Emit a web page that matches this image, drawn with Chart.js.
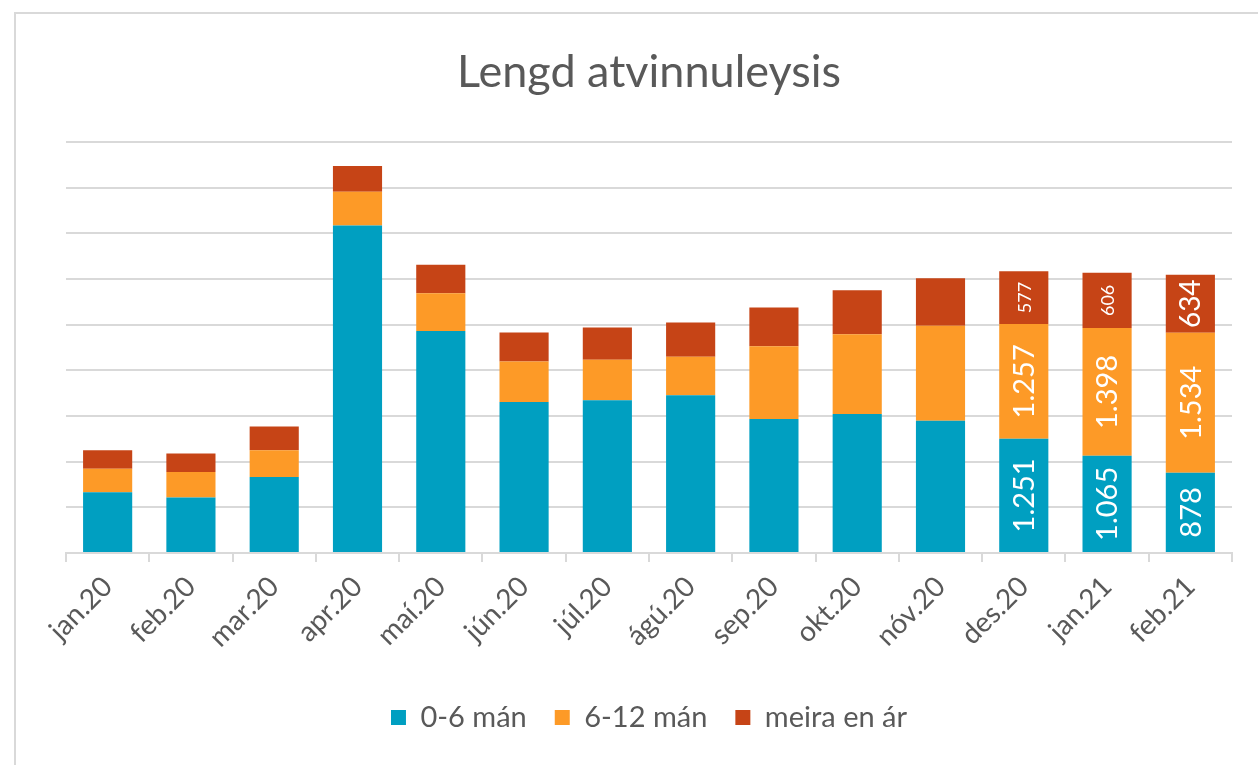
<!DOCTYPE html>
<html>
<head>
<meta charset="utf-8">
<script src="https://cdn.jsdelivr.net/npm/chart.js@4/dist/chart.umd.min.js"></script>
<style>
  html, body { margin: 0; padding: 0; background: #ffffff; overflow: hidden; }
  #frame { position: absolute; left: 14px; top: 12px; width: 1400px; height: 900px;
           border-left: 2px solid #d9d9d9; border-top: 2px solid #d9d9d9; box-sizing: border-box; }
  #wrap { position: absolute; left: 0; top: 0; width: 1258px; height: 765px; }
</style>
</head>
<body>
<div id="frame"></div>
<div id="wrap"><canvas id="c" width="1258" height="765"></canvas></div>
<script>
const categories = ["jan.20","feb.20","mar.20","apr.20","maí.20","jún.20","júl.20","ágú.20","sep.20","okt.20","nóv.20","des.20","jan.21","feb.21"];
const seriesNames = ["0-6 mán","6-12 mán","meira en ár"];
const shortTerm  = [666, 608, 831, 3585, 2432, 1654, 1672, 1727, 1467, 1522, 1448, 1251, 1065, 878];
const midTerm    = [257, 279, 294, 371, 412, 444, 445, 423, 796, 873, 1039, 1257, 1398, 1534];
const longTerm   = [203, 202, 260, 282, 312, 316, 352, 374, 426, 481, 522, 577, 606, 634];
const shortLabels = [null,null,null,null,null,null,null,null,null,null,null,"1.251","1.065","878"];
const midLabels   = [null,null,null,null,null,null,null,null,null,null,null,"1.257","1.398","1.534"];
const longLabels  = [null,null,null,null,null,null,null,null,null,null,null,"577","606","634"];
const yTicks = [0, 500, 1000, 1500, 2000, 2500, 3000, 3500, 4000, 4500];

const FONT = "Lato, 'Open Sans', sans-serif";
const labelFonts = [[29,29,29],[29,29,29],[18,18,28]];

const barLabelPlugin = {
  id: 'barLabels',
  afterDatasetsDraw(chart) {
    const ctx = chart.ctx;
    const all = [shortLabels, midLabels, longLabels];
    chart.data.datasets.forEach((ds, di) => {
      const meta = chart.getDatasetMeta(di);
      meta.data.forEach((bar, i) => {
        const txt = all[di][i];
        if (!txt) return;
        const k = i - 11;
        const size = labelFonts[di][k] || 28;
        const cy = (bar.y + bar.base) / 2;
        ctx.save();
        ctx.translate(bar.x, cy);
        ctx.rotate(-Math.PI / 2);
        ctx.fillStyle = '#ffffff';
        ctx.font = size + 'px ' + FONT;
        ctx.textAlign = 'center';
        ctx.textBaseline = 'middle';
        ctx.fillText(txt, 0, 1);
        ctx.restore();
      });
    });
  }
};

new Chart(document.getElementById('c'), {
  type: 'bar',
  data: {
    labels: categories,
    datasets: [
      { label: seriesNames[0], data: shortTerm, backgroundColor: '#009fc1' },
      { label: seriesNames[1], data: midTerm,   backgroundColor: '#fd9a27' },
      { label: seriesNames[2], data: longTerm,  backgroundColor: '#c64416' }
    ]
  },
  options: {
    responsive: false,
    animation: false,
    devicePixelRatio: 1,
    layout: { padding: { left: 66, right: 26, top: 0, bottom: 23 } },
    datasets: { bar: { categoryPercentage: 1.0, barPercentage: 0.59 } },
    plugins: {
      title: {
        display: true,
        text: 'Lengd atvinnuleysis',
        color: '#595959',
        font: { family: FONT, size: 45, weight: 'normal' },
        padding: { top: 45, bottom: 43 }
      },
      legend: {
        position: 'bottom',
        labels: {
          color: '#595959',
          font: { family: FONT, size: 29 },
          boxWidth: 15, boxHeight: 15, padding: 28
        }
      },
      tooltip: { enabled: false }
    },
    scales: {
      x: {
        stacked: true,
        grid: { display: true, offset: true, drawOnChartArea: false, drawTicks: true, tickLength: 9, color: '#d9d9d9', lineWidth: 2 },
        border: { display: true, color: '#d9d9d9', width: 2 },
        ticks: { color: '#595959', font: { family: FONT, size: 28 }, maxRotation: 45, minRotation: 45, padding: 8, autoSkip: false },
        afterFit: (scale) => { scale.height = 122; }
      },
      y: {
        stacked: true,
        min: yTicks[0],
        max: yTicks[yTicks.length - 1],
        afterBuildTicks: (axis) => { axis.ticks = yTicks.map(v => ({ value: v })); },
        ticks: { display: false },
        grid: { color: '#d9d9d9', lineWidth: 2, drawTicks: false },
        border: { display: false }
      }
    }
  },
  plugins: [barLabelPlugin]
});
</script>
</body>
</html>
